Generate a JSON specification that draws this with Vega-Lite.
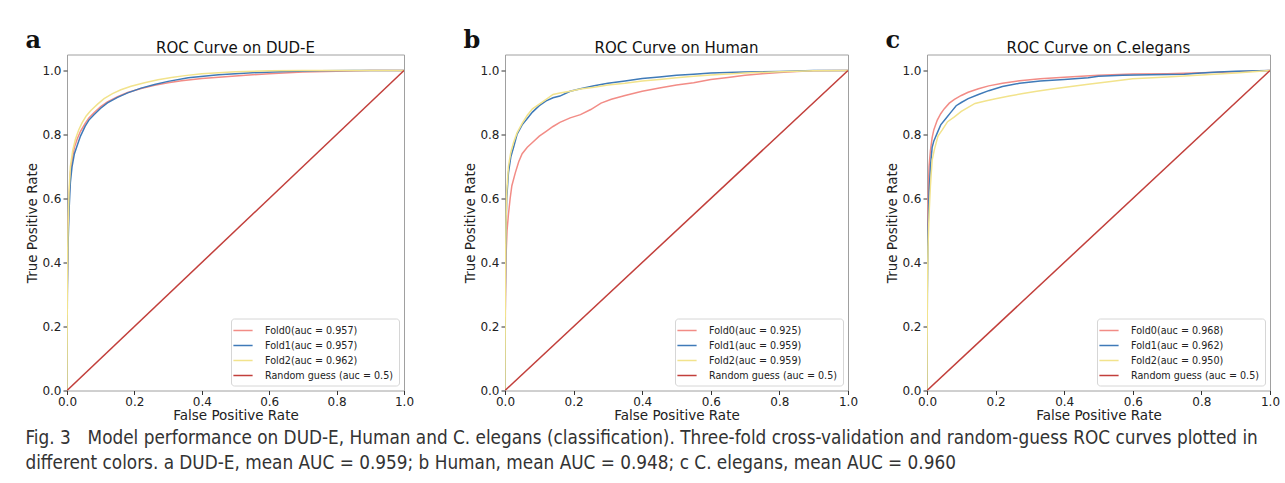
{
  "$schema": "https://vega.github.io/schema/vega-lite/v6.json",
  "background": "white",
  "padding": {"left": 25, "top": 28.5, "right": 2, "bottom": 2},
  "config": {
    "view": {"stroke": "#a0a0a0", "strokeWidth": 1},
    "axis": {"domain": false, "grid": false, "ticks": true, "tickColor": "#333", "tickSize": 4, "labelFont": "DejaVu Sans", "labelFontSize": 12, "labelColor": "#222", "labelPadding": 2, "labelFlush": false, "labelOverlap": false, "titleFont": "DejaVu Sans", "titleFontSize": 13.5, "titleFontWeight": "normal", "titleColor": "#222"},
    "axisX": {"titlePadding": 1},
    "axisY": {"titlePadding": 2},
    "legend": {"orient": "bottom-right", "offset": 5, "symbolType": "M-1.6,0H1.6", "symbolSize": 144, "symbolStrokeWidth": 1.5, "labelFont": "DejaVu Sans", "labelFontSize": 9.6, "labelColor": "#222", "fillColor": "white", "strokeColor": "#d6d6d6", "cornerRadius": 3, "padding": 5, "rowPadding": 3, "labelOffset": 15, "labelLimit": 300},
    "title": {"font": "DejaVu Sans", "fontSize": 15, "fontWeight": "normal", "color": "#111", "offset": -1},
    "line": {"strokeWidth": 1.5}
  },
  "title": {
    "text": ["Fig. 3\u2002\u2002Model performance on DUD-E, Human and C. elegans (classification). Three-fold cross-validation and random-guess ROC curves plotted in", "different colors. a DUD-E, mean AUC = 0.959; b Human, mean AUC = 0.948; c C. elegans, mean AUC = 0.960"],
    "orient": "bottom", "anchor": "start", "frame": "bounds",
    "font": "Liberation Sans Narrow, DejaVu Sans Condensed, sans-serif", "fontSize": 18.8, "fontWeight": "normal", "color": "#333", "lineHeight": 25, "offset": 6
  },
  "spacing": 48,
  "resolve": {"scale": {"color": "independent"}, "legend": {"color": "independent"}},
  "hconcat": [
    {
      "title": {"text": "a", "anchor": "start", "frame": "bounds", "font": "DejaVu Serif", "fontSize": 24, "fontWeight": "bold", "color": "#111", "offset": -13},
      "resolve": {"scale": {"color": "independent"}, "legend": {"color": "independent"}},
      "vconcat": [
        {
          "width": 337, "height": 336,
          "title": "ROC Curve on DUD-E",
          "data": {"values": [
            {"fpr": 0, "tpr": 0, "series": "Fold0(auc = 0.957)"},
            {"fpr": 0.001, "tpr": 0.33, "series": "Fold0(auc = 0.957)"},
            {"fpr": 0.003, "tpr": 0.48, "series": "Fold0(auc = 0.957)"},
            {"fpr": 0.006, "tpr": 0.6, "series": "Fold0(auc = 0.957)"},
            {"fpr": 0.01, "tpr": 0.68, "series": "Fold0(auc = 0.957)"},
            {"fpr": 0.015, "tpr": 0.72, "series": "Fold0(auc = 0.957)"},
            {"fpr": 0.022, "tpr": 0.76, "series": "Fold0(auc = 0.957)"},
            {"fpr": 0.03, "tpr": 0.785, "series": "Fold0(auc = 0.957)"},
            {"fpr": 0.04, "tpr": 0.81, "series": "Fold0(auc = 0.957)"},
            {"fpr": 0.054, "tpr": 0.835, "series": "Fold0(auc = 0.957)"},
            {"fpr": 0.065, "tpr": 0.852, "series": "Fold0(auc = 0.957)"},
            {"fpr": 0.08, "tpr": 0.868, "series": "Fold0(auc = 0.957)"},
            {"fpr": 0.1, "tpr": 0.887, "series": "Fold0(auc = 0.957)"},
            {"fpr": 0.12, "tpr": 0.902, "series": "Fold0(auc = 0.957)"},
            {"fpr": 0.15, "tpr": 0.918, "series": "Fold0(auc = 0.957)"},
            {"fpr": 0.18, "tpr": 0.931, "series": "Fold0(auc = 0.957)"},
            {"fpr": 0.22, "tpr": 0.944, "series": "Fold0(auc = 0.957)"},
            {"fpr": 0.26, "tpr": 0.954, "series": "Fold0(auc = 0.957)"},
            {"fpr": 0.3, "tpr": 0.962, "series": "Fold0(auc = 0.957)"},
            {"fpr": 0.34, "tpr": 0.968, "series": "Fold0(auc = 0.957)"},
            {"fpr": 0.4, "tpr": 0.975, "series": "Fold0(auc = 0.957)"},
            {"fpr": 0.45, "tpr": 0.979, "series": "Fold0(auc = 0.957)"},
            {"fpr": 0.5, "tpr": 0.983, "series": "Fold0(auc = 0.957)"},
            {"fpr": 0.6, "tpr": 0.99, "series": "Fold0(auc = 0.957)"},
            {"fpr": 0.7, "tpr": 0.995, "series": "Fold0(auc = 0.957)"},
            {"fpr": 0.8, "tpr": 0.998, "series": "Fold0(auc = 0.957)"},
            {"fpr": 0.9, "tpr": 1.0, "series": "Fold0(auc = 0.957)"},
            {"fpr": 1, "tpr": 1, "series": "Fold0(auc = 0.957)"},
            {"fpr": 0, "tpr": 0, "series": "Fold1(auc = 0.957)"},
            {"fpr": 0.001, "tpr": 0.3, "series": "Fold1(auc = 0.957)"},
            {"fpr": 0.003, "tpr": 0.45, "series": "Fold1(auc = 0.957)"},
            {"fpr": 0.006, "tpr": 0.56, "series": "Fold1(auc = 0.957)"},
            {"fpr": 0.01, "tpr": 0.65, "series": "Fold1(auc = 0.957)"},
            {"fpr": 0.015, "tpr": 0.7, "series": "Fold1(auc = 0.957)"},
            {"fpr": 0.022, "tpr": 0.74, "series": "Fold1(auc = 0.957)"},
            {"fpr": 0.03, "tpr": 0.765, "series": "Fold1(auc = 0.957)"},
            {"fpr": 0.04, "tpr": 0.795, "series": "Fold1(auc = 0.957)"},
            {"fpr": 0.054, "tpr": 0.826, "series": "Fold1(auc = 0.957)"},
            {"fpr": 0.065, "tpr": 0.845, "series": "Fold1(auc = 0.957)"},
            {"fpr": 0.08, "tpr": 0.862, "series": "Fold1(auc = 0.957)"},
            {"fpr": 0.1, "tpr": 0.882, "series": "Fold1(auc = 0.957)"},
            {"fpr": 0.12, "tpr": 0.899, "series": "Fold1(auc = 0.957)"},
            {"fpr": 0.15, "tpr": 0.916, "series": "Fold1(auc = 0.957)"},
            {"fpr": 0.18, "tpr": 0.93, "series": "Fold1(auc = 0.957)"},
            {"fpr": 0.22, "tpr": 0.945, "series": "Fold1(auc = 0.957)"},
            {"fpr": 0.26, "tpr": 0.956, "series": "Fold1(auc = 0.957)"},
            {"fpr": 0.3, "tpr": 0.966, "series": "Fold1(auc = 0.957)"},
            {"fpr": 0.36, "tpr": 0.977, "series": "Fold1(auc = 0.957)"},
            {"fpr": 0.45, "tpr": 0.987, "series": "Fold1(auc = 0.957)"},
            {"fpr": 0.55, "tpr": 0.993, "series": "Fold1(auc = 0.957)"},
            {"fpr": 0.65, "tpr": 0.997, "series": "Fold1(auc = 0.957)"},
            {"fpr": 0.75, "tpr": 0.999, "series": "Fold1(auc = 0.957)"},
            {"fpr": 0.85, "tpr": 1.0, "series": "Fold1(auc = 0.957)"},
            {"fpr": 1, "tpr": 1, "series": "Fold1(auc = 0.957)"},
            {"fpr": 0, "tpr": 0, "series": "Fold2(auc = 0.962)"},
            {"fpr": 0.001, "tpr": 0.35, "series": "Fold2(auc = 0.962)"},
            {"fpr": 0.003, "tpr": 0.5, "series": "Fold2(auc = 0.962)"},
            {"fpr": 0.006, "tpr": 0.62, "series": "Fold2(auc = 0.962)"},
            {"fpr": 0.01, "tpr": 0.7, "series": "Fold2(auc = 0.962)"},
            {"fpr": 0.017, "tpr": 0.75, "series": "Fold2(auc = 0.962)"},
            {"fpr": 0.025, "tpr": 0.785, "series": "Fold2(auc = 0.962)"},
            {"fpr": 0.035, "tpr": 0.815, "series": "Fold2(auc = 0.962)"},
            {"fpr": 0.045, "tpr": 0.837, "series": "Fold2(auc = 0.962)"},
            {"fpr": 0.057, "tpr": 0.858, "series": "Fold2(auc = 0.962)"},
            {"fpr": 0.07, "tpr": 0.874, "series": "Fold2(auc = 0.962)"},
            {"fpr": 0.09, "tpr": 0.894, "series": "Fold2(auc = 0.962)"},
            {"fpr": 0.11, "tpr": 0.912, "series": "Fold2(auc = 0.962)"},
            {"fpr": 0.135, "tpr": 0.928, "series": "Fold2(auc = 0.962)"},
            {"fpr": 0.16, "tpr": 0.94, "series": "Fold2(auc = 0.962)"},
            {"fpr": 0.19, "tpr": 0.951, "series": "Fold2(auc = 0.962)"},
            {"fpr": 0.23, "tpr": 0.962, "series": "Fold2(auc = 0.962)"},
            {"fpr": 0.27, "tpr": 0.971, "series": "Fold2(auc = 0.962)"},
            {"fpr": 0.31, "tpr": 0.978, "series": "Fold2(auc = 0.962)"},
            {"fpr": 0.35, "tpr": 0.984, "series": "Fold2(auc = 0.962)"},
            {"fpr": 0.4, "tpr": 0.99, "series": "Fold2(auc = 0.962)"},
            {"fpr": 0.5, "tpr": 0.996, "series": "Fold2(auc = 0.962)"},
            {"fpr": 0.6, "tpr": 0.999, "series": "Fold2(auc = 0.962)"},
            {"fpr": 0.7, "tpr": 1.0, "series": "Fold2(auc = 0.962)"},
            {"fpr": 1, "tpr": 1, "series": "Fold2(auc = 0.962)"},
            {"fpr": 0, "tpr": 0, "series": "Random guess (auc = 0.5)"},
            {"fpr": 1, "tpr": 1, "series": "Random guess (auc = 0.5)"}
          ]},
          "mark": {"type": "line", "clip": true},
          "encoding": {
            "x": {"field": "fpr", "type": "quantitative", "scale": {"domain": [0, 1], "nice": false}, "axis": {"values": [0, 0.2, 0.4, 0.6, 0.8, 1], "format": ".1f", "title": "False Positive Rate"}},
            "y": {"field": "tpr", "type": "quantitative", "scale": {"domain": [0, 1.05], "nice": false}, "axis": {"values": [0, 0.2, 0.4, 0.6, 0.8, 1], "format": ".1f", "title": "True Positive Rate"}},
            "color": {"field": "series", "type": "nominal", "scale": {"domain": ["Fold0(auc = 0.957)", "Fold1(auc = 0.957)", "Fold2(auc = 0.962)", "Random guess (auc = 0.5)"], "range": ["#f28c86", "#3f7ab8", "#f2e38c", "#c23f3b"]}, "legend": {"title": null}}
          }
        }
      ]
    },
    {
      "spacing": 26,
      "resolve": {"scale": {"color": "independent"}, "legend": {"color": "independent"}},
      "hconcat": [
        {
          "title": {"text": "b", "anchor": "start", "frame": "bounds", "font": "DejaVu Serif", "fontSize": 24, "fontWeight": "bold", "color": "#111", "offset": -13},
          "resolve": {"scale": {"color": "independent"}, "legend": {"color": "independent"}},
          "vconcat": [
            {
              "width": 343, "height": 336,
              "title": "ROC Curve on Human",
              "data": {"values": [
                {"fpr": 0, "tpr": 0, "series": "Fold0(auc = 0.925)"},
                {"fpr": 0.001, "tpr": 0.25, "series": "Fold0(auc = 0.925)"},
                {"fpr": 0.003, "tpr": 0.42, "series": "Fold0(auc = 0.925)"},
                {"fpr": 0.006, "tpr": 0.5, "series": "Fold0(auc = 0.925)"},
                {"fpr": 0.01, "tpr": 0.55, "series": "Fold0(auc = 0.925)"},
                {"fpr": 0.015, "tpr": 0.6, "series": "Fold0(auc = 0.925)"},
                {"fpr": 0.02, "tpr": 0.64, "series": "Fold0(auc = 0.925)"},
                {"fpr": 0.03, "tpr": 0.68, "series": "Fold0(auc = 0.925)"},
                {"fpr": 0.04, "tpr": 0.715, "series": "Fold0(auc = 0.925)"},
                {"fpr": 0.05, "tpr": 0.74, "series": "Fold0(auc = 0.925)"},
                {"fpr": 0.065, "tpr": 0.76, "series": "Fold0(auc = 0.925)"},
                {"fpr": 0.08, "tpr": 0.775, "series": "Fold0(auc = 0.925)"},
                {"fpr": 0.1, "tpr": 0.795, "series": "Fold0(auc = 0.925)"},
                {"fpr": 0.12, "tpr": 0.81, "series": "Fold0(auc = 0.925)"},
                {"fpr": 0.14, "tpr": 0.825, "series": "Fold0(auc = 0.925)"},
                {"fpr": 0.16, "tpr": 0.838, "series": "Fold0(auc = 0.925)"},
                {"fpr": 0.19, "tpr": 0.852, "series": "Fold0(auc = 0.925)"},
                {"fpr": 0.22, "tpr": 0.862, "series": "Fold0(auc = 0.925)"},
                {"fpr": 0.25, "tpr": 0.878, "series": "Fold0(auc = 0.925)"},
                {"fpr": 0.28, "tpr": 0.898, "series": "Fold0(auc = 0.925)"},
                {"fpr": 0.31, "tpr": 0.91, "series": "Fold0(auc = 0.925)"},
                {"fpr": 0.35, "tpr": 0.922, "series": "Fold0(auc = 0.925)"},
                {"fpr": 0.4, "tpr": 0.935, "series": "Fold0(auc = 0.925)"},
                {"fpr": 0.45, "tpr": 0.945, "series": "Fold0(auc = 0.925)"},
                {"fpr": 0.5, "tpr": 0.955, "series": "Fold0(auc = 0.925)"},
                {"fpr": 0.55, "tpr": 0.962, "series": "Fold0(auc = 0.925)"},
                {"fpr": 0.6, "tpr": 0.972, "series": "Fold0(auc = 0.925)"},
                {"fpr": 0.65, "tpr": 0.978, "series": "Fold0(auc = 0.925)"},
                {"fpr": 0.7, "tpr": 0.985, "series": "Fold0(auc = 0.925)"},
                {"fpr": 0.75, "tpr": 0.99, "series": "Fold0(auc = 0.925)"},
                {"fpr": 0.8, "tpr": 0.994, "series": "Fold0(auc = 0.925)"},
                {"fpr": 0.85, "tpr": 0.997, "series": "Fold0(auc = 0.925)"},
                {"fpr": 0.9, "tpr": 0.999, "series": "Fold0(auc = 0.925)"},
                {"fpr": 1, "tpr": 1, "series": "Fold0(auc = 0.925)"},
                {"fpr": 0, "tpr": 0, "series": "Fold1(auc = 0.959)"},
                {"fpr": 0.001, "tpr": 0.3, "series": "Fold1(auc = 0.959)"},
                {"fpr": 0.003, "tpr": 0.5, "series": "Fold1(auc = 0.959)"},
                {"fpr": 0.005, "tpr": 0.6, "series": "Fold1(auc = 0.959)"},
                {"fpr": 0.01, "tpr": 0.68, "series": "Fold1(auc = 0.959)"},
                {"fpr": 0.017, "tpr": 0.73, "series": "Fold1(auc = 0.959)"},
                {"fpr": 0.025, "tpr": 0.76, "series": "Fold1(auc = 0.959)"},
                {"fpr": 0.035, "tpr": 0.8, "series": "Fold1(auc = 0.959)"},
                {"fpr": 0.05, "tpr": 0.83, "series": "Fold1(auc = 0.959)"},
                {"fpr": 0.065, "tpr": 0.85, "series": "Fold1(auc = 0.959)"},
                {"fpr": 0.08, "tpr": 0.87, "series": "Fold1(auc = 0.959)"},
                {"fpr": 0.1, "tpr": 0.89, "series": "Fold1(auc = 0.959)"},
                {"fpr": 0.12, "tpr": 0.905, "series": "Fold1(auc = 0.959)"},
                {"fpr": 0.14, "tpr": 0.915, "series": "Fold1(auc = 0.959)"},
                {"fpr": 0.16, "tpr": 0.92, "series": "Fold1(auc = 0.959)"},
                {"fpr": 0.19, "tpr": 0.935, "series": "Fold1(auc = 0.959)"},
                {"fpr": 0.22, "tpr": 0.943, "series": "Fold1(auc = 0.959)"},
                {"fpr": 0.26, "tpr": 0.952, "series": "Fold1(auc = 0.959)"},
                {"fpr": 0.3, "tpr": 0.96, "series": "Fold1(auc = 0.959)"},
                {"fpr": 0.35, "tpr": 0.967, "series": "Fold1(auc = 0.959)"},
                {"fpr": 0.4, "tpr": 0.975, "series": "Fold1(auc = 0.959)"},
                {"fpr": 0.45, "tpr": 0.98, "series": "Fold1(auc = 0.959)"},
                {"fpr": 0.5, "tpr": 0.985, "series": "Fold1(auc = 0.959)"},
                {"fpr": 0.55, "tpr": 0.988, "series": "Fold1(auc = 0.959)"},
                {"fpr": 0.6, "tpr": 0.992, "series": "Fold1(auc = 0.959)"},
                {"fpr": 0.7, "tpr": 0.995, "series": "Fold1(auc = 0.959)"},
                {"fpr": 0.8, "tpr": 0.997, "series": "Fold1(auc = 0.959)"},
                {"fpr": 0.9, "tpr": 1.0, "series": "Fold1(auc = 0.959)"},
                {"fpr": 1, "tpr": 1, "series": "Fold1(auc = 0.959)"},
                {"fpr": 0, "tpr": 0, "series": "Fold2(auc = 0.959)"},
                {"fpr": 0.001, "tpr": 0.35, "series": "Fold2(auc = 0.959)"},
                {"fpr": 0.003, "tpr": 0.52, "series": "Fold2(auc = 0.959)"},
                {"fpr": 0.005, "tpr": 0.62, "series": "Fold2(auc = 0.959)"},
                {"fpr": 0.01, "tpr": 0.7, "series": "Fold2(auc = 0.959)"},
                {"fpr": 0.017, "tpr": 0.745, "series": "Fold2(auc = 0.959)"},
                {"fpr": 0.025, "tpr": 0.775, "series": "Fold2(auc = 0.959)"},
                {"fpr": 0.035, "tpr": 0.805, "series": "Fold2(auc = 0.959)"},
                {"fpr": 0.05, "tpr": 0.835, "series": "Fold2(auc = 0.959)"},
                {"fpr": 0.065, "tpr": 0.86, "series": "Fold2(auc = 0.959)"},
                {"fpr": 0.08, "tpr": 0.88, "series": "Fold2(auc = 0.959)"},
                {"fpr": 0.1, "tpr": 0.895, "series": "Fold2(auc = 0.959)"},
                {"fpr": 0.12, "tpr": 0.91, "series": "Fold2(auc = 0.959)"},
                {"fpr": 0.14, "tpr": 0.925, "series": "Fold2(auc = 0.959)"},
                {"fpr": 0.16, "tpr": 0.93, "series": "Fold2(auc = 0.959)"},
                {"fpr": 0.19, "tpr": 0.935, "series": "Fold2(auc = 0.959)"},
                {"fpr": 0.22, "tpr": 0.942, "series": "Fold2(auc = 0.959)"},
                {"fpr": 0.26, "tpr": 0.948, "series": "Fold2(auc = 0.959)"},
                {"fpr": 0.3, "tpr": 0.955, "series": "Fold2(auc = 0.959)"},
                {"fpr": 0.35, "tpr": 0.96, "series": "Fold2(auc = 0.959)"},
                {"fpr": 0.4, "tpr": 0.967, "series": "Fold2(auc = 0.959)"},
                {"fpr": 0.45, "tpr": 0.972, "series": "Fold2(auc = 0.959)"},
                {"fpr": 0.5, "tpr": 0.977, "series": "Fold2(auc = 0.959)"},
                {"fpr": 0.55, "tpr": 0.982, "series": "Fold2(auc = 0.959)"},
                {"fpr": 0.6, "tpr": 0.986, "series": "Fold2(auc = 0.959)"},
                {"fpr": 0.7, "tpr": 0.992, "series": "Fold2(auc = 0.959)"},
                {"fpr": 0.8, "tpr": 0.996, "series": "Fold2(auc = 0.959)"},
                {"fpr": 0.9, "tpr": 0.999, "series": "Fold2(auc = 0.959)"},
                {"fpr": 1, "tpr": 1, "series": "Fold2(auc = 0.959)"},
                {"fpr": 0, "tpr": 0, "series": "Random guess (auc = 0.5)"},
                {"fpr": 1, "tpr": 1, "series": "Random guess (auc = 0.5)"}
              ]},
              "mark": {"type": "line", "clip": true},
              "encoding": {
                "x": {"field": "fpr", "type": "quantitative", "scale": {"domain": [0, 1], "nice": false}, "axis": {"values": [0, 0.2, 0.4, 0.6, 0.8, 1], "format": ".1f", "title": "False Positive Rate"}},
                "y": {"field": "tpr", "type": "quantitative", "scale": {"domain": [0, 1.05], "nice": false}, "axis": {"values": [0, 0.2, 0.4, 0.6, 0.8, 1], "format": ".1f", "title": "True Positive Rate"}},
                "color": {"field": "series", "type": "nominal", "scale": {"domain": ["Fold0(auc = 0.925)", "Fold1(auc = 0.959)", "Fold2(auc = 0.959)", "Random guess (auc = 0.5)"], "range": ["#f28c86", "#3f7ab8", "#f2e38c", "#c23f3b"]}, "legend": {"title": null}}
              }
            }
          ]
        },
        {
          "title": {"text": "c", "anchor": "start", "frame": "bounds", "font": "DejaVu Serif", "fontSize": 24, "fontWeight": "bold", "color": "#111", "offset": -13},
          "resolve": {"scale": {"color": "independent"}, "legend": {"color": "independent"}},
          "vconcat": [
            {
              "width": 343, "height": 336,
              "title": "ROC Curve on C.elegans",
              "data": {"values": [
                {"fpr": 0, "tpr": 0, "series": "Fold0(auc = 0.968)"},
                {"fpr": 0.001, "tpr": 0.45, "series": "Fold0(auc = 0.968)"},
                {"fpr": 0.003, "tpr": 0.6, "series": "Fold0(auc = 0.968)"},
                {"fpr": 0.006, "tpr": 0.7, "series": "Fold0(auc = 0.968)"},
                {"fpr": 0.01, "tpr": 0.75, "series": "Fold0(auc = 0.968)"},
                {"fpr": 0.015, "tpr": 0.79, "series": "Fold0(auc = 0.968)"},
                {"fpr": 0.02, "tpr": 0.815, "series": "Fold0(auc = 0.968)"},
                {"fpr": 0.03, "tpr": 0.845, "series": "Fold0(auc = 0.968)"},
                {"fpr": 0.04, "tpr": 0.865, "series": "Fold0(auc = 0.968)"},
                {"fpr": 0.05, "tpr": 0.88, "series": "Fold0(auc = 0.968)"},
                {"fpr": 0.065, "tpr": 0.898, "series": "Fold0(auc = 0.968)"},
                {"fpr": 0.08, "tpr": 0.91, "series": "Fold0(auc = 0.968)"},
                {"fpr": 0.1, "tpr": 0.922, "series": "Fold0(auc = 0.968)"},
                {"fpr": 0.12, "tpr": 0.932, "series": "Fold0(auc = 0.968)"},
                {"fpr": 0.15, "tpr": 0.943, "series": "Fold0(auc = 0.968)"},
                {"fpr": 0.18, "tpr": 0.952, "series": "Fold0(auc = 0.968)"},
                {"fpr": 0.22, "tpr": 0.96, "series": "Fold0(auc = 0.968)"},
                {"fpr": 0.27, "tpr": 0.968, "series": "Fold0(auc = 0.968)"},
                {"fpr": 0.33, "tpr": 0.974, "series": "Fold0(auc = 0.968)"},
                {"fpr": 0.4, "tpr": 0.979, "series": "Fold0(auc = 0.968)"},
                {"fpr": 0.5, "tpr": 0.985, "series": "Fold0(auc = 0.968)"},
                {"fpr": 0.6, "tpr": 0.989, "series": "Fold0(auc = 0.968)"},
                {"fpr": 0.7, "tpr": 0.99, "series": "Fold0(auc = 0.968)"},
                {"fpr": 0.8, "tpr": 0.993, "series": "Fold0(auc = 0.968)"},
                {"fpr": 0.9, "tpr": 0.996, "series": "Fold0(auc = 0.968)"},
                {"fpr": 0.95, "tpr": 0.998, "series": "Fold0(auc = 0.968)"},
                {"fpr": 1, "tpr": 1, "series": "Fold0(auc = 0.968)"},
                {"fpr": 0, "tpr": 0, "series": "Fold1(auc = 0.962)"},
                {"fpr": 0.001, "tpr": 0.3, "series": "Fold1(auc = 0.962)"},
                {"fpr": 0.003, "tpr": 0.5, "series": "Fold1(auc = 0.962)"},
                {"fpr": 0.006, "tpr": 0.62, "series": "Fold1(auc = 0.962)"},
                {"fpr": 0.01, "tpr": 0.7, "series": "Fold1(auc = 0.962)"},
                {"fpr": 0.015, "tpr": 0.76, "series": "Fold1(auc = 0.962)"},
                {"fpr": 0.02, "tpr": 0.78, "series": "Fold1(auc = 0.962)"},
                {"fpr": 0.03, "tpr": 0.805, "series": "Fold1(auc = 0.962)"},
                {"fpr": 0.04, "tpr": 0.83, "series": "Fold1(auc = 0.962)"},
                {"fpr": 0.055, "tpr": 0.85, "series": "Fold1(auc = 0.962)"},
                {"fpr": 0.07, "tpr": 0.87, "series": "Fold1(auc = 0.962)"},
                {"fpr": 0.085, "tpr": 0.89, "series": "Fold1(auc = 0.962)"},
                {"fpr": 0.1, "tpr": 0.9, "series": "Fold1(auc = 0.962)"},
                {"fpr": 0.12, "tpr": 0.912, "series": "Fold1(auc = 0.962)"},
                {"fpr": 0.15, "tpr": 0.925, "series": "Fold1(auc = 0.962)"},
                {"fpr": 0.18, "tpr": 0.937, "series": "Fold1(auc = 0.962)"},
                {"fpr": 0.22, "tpr": 0.95, "series": "Fold1(auc = 0.962)"},
                {"fpr": 0.27, "tpr": 0.96, "series": "Fold1(auc = 0.962)"},
                {"fpr": 0.33, "tpr": 0.967, "series": "Fold1(auc = 0.962)"},
                {"fpr": 0.4, "tpr": 0.972, "series": "Fold1(auc = 0.962)"},
                {"fpr": 0.47, "tpr": 0.977, "series": "Fold1(auc = 0.962)"},
                {"fpr": 0.5, "tpr": 0.982, "series": "Fold1(auc = 0.962)"},
                {"fpr": 0.57, "tpr": 0.985, "series": "Fold1(auc = 0.962)"},
                {"fpr": 0.65, "tpr": 0.987, "series": "Fold1(auc = 0.962)"},
                {"fpr": 0.75, "tpr": 0.988, "series": "Fold1(auc = 0.962)"},
                {"fpr": 0.8, "tpr": 0.992, "series": "Fold1(auc = 0.962)"},
                {"fpr": 0.85, "tpr": 0.995, "series": "Fold1(auc = 0.962)"},
                {"fpr": 0.9, "tpr": 0.998, "series": "Fold1(auc = 0.962)"},
                {"fpr": 1, "tpr": 1, "series": "Fold1(auc = 0.962)"},
                {"fpr": 0, "tpr": 0, "series": "Fold2(auc = 0.950)"},
                {"fpr": 0.001, "tpr": 0.3, "series": "Fold2(auc = 0.950)"},
                {"fpr": 0.003, "tpr": 0.45, "series": "Fold2(auc = 0.950)"},
                {"fpr": 0.006, "tpr": 0.55, "series": "Fold2(auc = 0.950)"},
                {"fpr": 0.01, "tpr": 0.64, "series": "Fold2(auc = 0.950)"},
                {"fpr": 0.015, "tpr": 0.72, "series": "Fold2(auc = 0.950)"},
                {"fpr": 0.022, "tpr": 0.755, "series": "Fold2(auc = 0.950)"},
                {"fpr": 0.032, "tpr": 0.795, "series": "Fold2(auc = 0.950)"},
                {"fpr": 0.045, "tpr": 0.815, "series": "Fold2(auc = 0.950)"},
                {"fpr": 0.06, "tpr": 0.84, "series": "Fold2(auc = 0.950)"},
                {"fpr": 0.08, "tpr": 0.855, "series": "Fold2(auc = 0.950)"},
                {"fpr": 0.1, "tpr": 0.872, "series": "Fold2(auc = 0.950)"},
                {"fpr": 0.12, "tpr": 0.885, "series": "Fold2(auc = 0.950)"},
                {"fpr": 0.14, "tpr": 0.897, "series": "Fold2(auc = 0.950)"},
                {"fpr": 0.17, "tpr": 0.905, "series": "Fold2(auc = 0.950)"},
                {"fpr": 0.2, "tpr": 0.912, "series": "Fold2(auc = 0.950)"},
                {"fpr": 0.24, "tpr": 0.92, "series": "Fold2(auc = 0.950)"},
                {"fpr": 0.28, "tpr": 0.928, "series": "Fold2(auc = 0.950)"},
                {"fpr": 0.32, "tpr": 0.935, "series": "Fold2(auc = 0.950)"},
                {"fpr": 0.37, "tpr": 0.943, "series": "Fold2(auc = 0.950)"},
                {"fpr": 0.42, "tpr": 0.95, "series": "Fold2(auc = 0.950)"},
                {"fpr": 0.47, "tpr": 0.957, "series": "Fold2(auc = 0.950)"},
                {"fpr": 0.53, "tpr": 0.965, "series": "Fold2(auc = 0.950)"},
                {"fpr": 0.6, "tpr": 0.974, "series": "Fold2(auc = 0.950)"},
                {"fpr": 0.7, "tpr": 0.98, "series": "Fold2(auc = 0.950)"},
                {"fpr": 0.8, "tpr": 0.986, "series": "Fold2(auc = 0.950)"},
                {"fpr": 0.9, "tpr": 0.992, "series": "Fold2(auc = 0.950)"},
                {"fpr": 0.95, "tpr": 0.996, "series": "Fold2(auc = 0.950)"},
                {"fpr": 1, "tpr": 1, "series": "Fold2(auc = 0.950)"},
                {"fpr": 0, "tpr": 0, "series": "Random guess (auc = 0.5)"},
                {"fpr": 1, "tpr": 1, "series": "Random guess (auc = 0.5)"}
              ]},
              "mark": {"type": "line", "clip": true},
              "encoding": {
                "x": {"field": "fpr", "type": "quantitative", "scale": {"domain": [0, 1], "nice": false}, "axis": {"values": [0, 0.2, 0.4, 0.6, 0.8, 1], "format": ".1f", "title": "False Positive Rate"}},
                "y": {"field": "tpr", "type": "quantitative", "scale": {"domain": [0, 1.05], "nice": false}, "axis": {"values": [0, 0.2, 0.4, 0.6, 0.8, 1], "format": ".1f", "title": "True Positive Rate"}},
                "color": {"field": "series", "type": "nominal", "scale": {"domain": ["Fold0(auc = 0.968)", "Fold1(auc = 0.962)", "Fold2(auc = 0.950)", "Random guess (auc = 0.5)"], "range": ["#f28c86", "#3f7ab8", "#f2e38c", "#c23f3b"]}, "legend": {"title": null}}
              }
            }
          ]
        }
      ]
    }
  ]
}
